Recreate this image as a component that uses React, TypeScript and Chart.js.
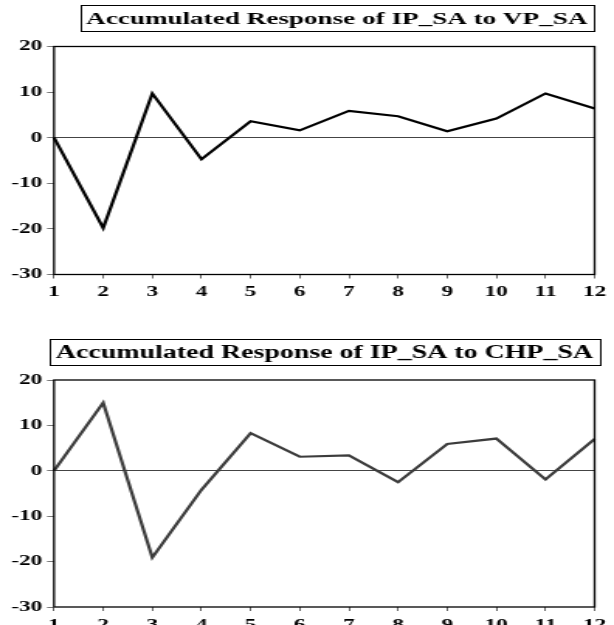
import React, { useEffect, useRef } from 'react';
import { Chart, registerables } from 'chart.js';

Chart.register(...registerables);

// ---- data ----
const periods = ['1', '2', '3', '4', '5', '6', '7', '8', '9', '10', '11', '12'];
const responseToVP = [0, -19.8, 9.7, -4.7, 3.6, 1.6, 5.9, 4.7, 1.4, 4.2, 9.7, 6.4];
const responseToCHP = [0, 15.0, -19.1, -4.2, 8.3, 3.1, 3.4, -2.5, 5.9, 7.1, -1.9, 7.0];
const yTickValues = [-30, -20, -10, 0, 10, 20];
const titleVP = 'Accumulated Response of IP_SA to VP_SA';
const titleCHP = 'Accumulated Response of IP_SA to CHP_SA';

// ---- layout (the original graphic is horizontally stretched) ----
const SX = 1.55;
const CSS_W = 614;
const W = Math.round(CSS_W / SX);
const FONT = '"Liberation Serif", "Times New Roman", serif';

const titleBox = {
  id: 'titleBox',
  afterDraw(chart: any, _args: any, opts: any) {
    const { ctx, chartArea } = chart;
    ctx.save();
    ctx.font = `bold ${opts.size}px ${FONT}`;
    const tw = ctx.measureText(opts.text).width;
    const cx = (chartArea.left + chartArea.right) / 2 + (opts.shift || 0);
    const boxH = opts.boxH;
    const padX = opts.padX;
    const bottom = chartArea.top - opts.gap;
    const top = bottom - boxH;
    ctx.strokeStyle = '#000';
    ctx.lineWidth = 1;
    ctx.strokeRect(Math.round(cx - tw / 2 - padX) + 0.5, Math.round(top) + 0.5, Math.round(tw + 2 * padX), boxH);
    ctx.fillStyle = '#000';
    ctx.textAlign = 'center';
    ctx.textBaseline = 'middle';
    ctx.fillText(opts.text, cx, top + boxH / 2 + 1.5);
    ctx.restore();
  },
};

const frame = {
  id: 'frame',
  afterDatasetsDraw(chart: any) {
    const { ctx, chartArea } = chart;
    const { left, top, right, bottom } = chartArea;
    ctx.save();
    ctx.strokeStyle = '#000';
    ctx.lineWidth = 1.3;
    ctx.strokeRect(left, top, right - left, bottom - top);
    ctx.restore();
  },
};

type PanelProps = {
  title: string;
  titleSize: number;
  values: number[];
  color: string;
  height: number;
  padTop: number;
  xAxisH: number;
  shift: number;
};

function Panel({ title, titleSize, values, color, height, padTop, xAxisH, shift }: PanelProps) {
  const ref = useRef<HTMLCanvasElement | null>(null);
  useEffect(() => {
    if (!ref.current) return;
    const tickFont = { family: FONT, size: 15, weight: 'bold' as const };
    const chart = new Chart(ref.current, {
      type: 'line',
      data: {
        labels: periods,
        datasets: [
          {
            data: values,
            borderColor: color,
            borderWidth: 2.2,
            pointRadius: 0,
            tension: 0,
            borderJoinStyle: 'miter',
            fill: false,
          },
        ],
      },
      options: {
        responsive: false,
        devicePixelRatio: 1,
        animation: false,
        events: [],
        layout: { padding: { top: padTop, right: 6.5, bottom: 0, left: 0 } },
        plugins: {
          legend: { display: false },
          tooltip: { enabled: false },
          titleBox: { text: title, size: titleSize, boxH: 26, padX: 4, gap: 15.5, shift },
        } as any,
        scales: {
          x: {
            type: 'category',
            offset: false,
            afterFit(scale: any) {
              scale.height = xAxisH;
            },
            border: { display: false },
            grid: {
              drawOnChartArea: false,
              drawTicks: true,
              tickLength: 4,
              tickColor: '#666',
              tickWidth: 1,
            },
            ticks: {
              color: '#000',
              font: tickFont,
              padding: 5,
              maxRotation: 0,
              autoSkip: false,
            },
          },
          y: {
            type: 'linear',
            min: -30,
            max: 20,
            afterBuildTicks(scale: any) {
              scale.ticks = yTickValues.map((v) => ({ value: v }));
            },
            afterFit(scale: any) {
              scale.width = 54 / SX;
            },
            border: { display: false },
            grid: {
              drawOnChartArea: true,
              drawTicks: true,
              tickLength: 4.5,
              tickColor: '#777',
              color: (c: any) => (c.tick && c.tick.value === 0 ? '#444' : 'rgba(0,0,0,0)'),
              lineWidth: 1,
            },
            ticks: {
              color: '#000',
              font: tickFont,
              padding: 3,
            },
          },
        },
      },
      plugins: [frame, titleBox],
    });
    return () => chart.destroy();
  }, [title, titleSize, values, color, height, padTop, xAxisH, shift]);

  return (
    <canvas
      ref={ref}
      width={W}
      height={height}
      style={{ display: 'block', width: CSS_W + 'px', height: height + 'px' }}
    />
  );
}

export default function App() {
  return (
    <div style={{ position: 'absolute', left: 0, top: 0, width: CSS_W, height: 625, overflow: 'hidden', background: '#fff' }}>
      <Panel title={titleVP} titleSize={17.5} values={responseToVP} color="#000" height={312} padTop={46.5} xAxisH={37.5} shift={8} />
      <Panel title={titleCHP} titleSize={18} values={responseToCHP} color="#3c3c3c" height={313} padTop={68} xAxisH={18} shift={0} />
    </div>
  );
}
